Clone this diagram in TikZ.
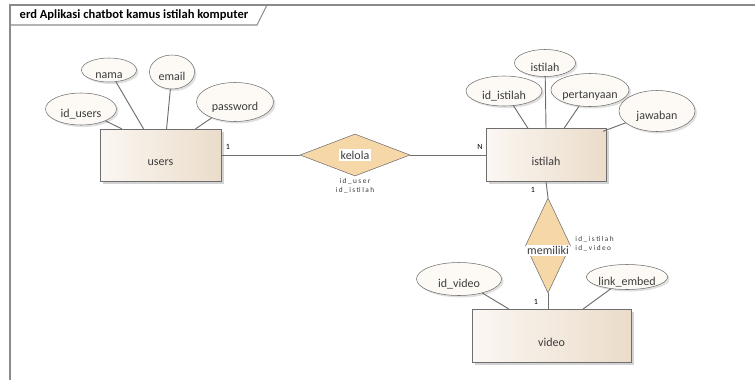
\documentclass[tikz,border=0pt]{standalone}
\usepackage{fontspec}
\setmainfont{Carlito}
\newfontfamily\keyfont[LetterSpace=20]{Carlito}
\usepackage{xcolor}
\definecolor{myline}{RGB}{110,110,110}
\definecolor{myattr}{RGB}{253,250,246}
\definecolor{mytan}{RGB}{246,215,168}
\definecolor{mylight}{RGB}{251,247,243}
\definecolor{mybeige}{RGB}{235,220,202}
\definecolor{mytext}{RGB}{60,60,60}
\usepackage{tikz}
\usetikzlibrary{shapes.geometric,shadows,calc}
\newcommand{\pxu}{0.75pt}

\begin{document}
\begin{tikzpicture}[x=0.75pt,y=-0.75pt,line cap=round]
	\tikzstyle{entity}=[draw=myline,rectangle,left color=mylight,right color=mybeige,inner sep=0pt,text height=16pt,text depth=0pt,font=\fontsize{9}{11}\selectfont,text=mytext,drop shadow={shadow xshift=2pt,shadow yshift=-2pt,opacity=.35}];
	\tikzstyle{attr}=[draw=myline,ellipse,fill=myattr,inner sep=0pt,text height=12pt,text depth=0pt,font=\fontsize{9}{11}\selectfont,text=mytext,drop shadow={shadow xshift=1.5pt,shadow yshift=-1.5pt,opacity=.25}];
	\tikzstyle{rel}=[draw=myline,diamond,fill=mytan,inner sep=0pt];
	\tikzstyle{relname}=[fill=white,inner sep=1pt,font=\fontsize{9}{11}\selectfont,text=mytext];
	\tikzstyle{keys}=[font=\keyfont\fontsize{5.5}{6.8}\selectfont,text=mytext,inner sep=0pt];
	\tikzstyle{card}=[font=\fontsize{6}{7}\selectfont,text=black,inner sep=0pt];
	\tikzstyle{conn}=[draw=myline,line width=.7pt];
	\tikzstyle{frame}=[draw=myline!80,line width=.8pt];
	\useasboundingbox (0,0) rectangle (755,379);
	% frame and title
	\draw[frame] (10,385) -- (10,5) -- (760,5);
	\draw[frame] (10,25) -- (257,25) -- (267,5);
	\node[anchor=west,font=\bfseries\fontsize{9.4}{11}\selectfont] (title) at (15,15) {erd Aplikasi chatbot kamus istilah komputer};
	% entities
	\node[entity,minimum width=121*\pxu,minimum height=52*\pxu] (users) at (160.5,155) {users};
	\node[entity,minimum width=120*\pxu,minimum height=53*\pxu] (istilah) at (546,155) {istilah};
	\node[entity,minimum width=159*\pxu,minimum height=53*\pxu] (video) at (551.5,335.5) {video};
	% relations
	\node[rel,minimum width=110*\pxu,minimum height=42*\pxu,label={[relname]center:kelola}] (kelola) at (355,155) {};
	\node[rel,minimum width=45*\pxu,minimum height=95*\pxu,label={[relname,yshift=-4pt]center:memiliki}] (memiliki) at (548,245.5) {};
	% attributes
	\node[attr,minimum width=71*\pxu,minimum height=32*\pxu] (idusers) at (81,109) {id\_users};
	\node[attr,minimum width=55*\pxu,minimum height=24*\pxu] (nama) at (109,70) {nama};
	\node[attr,minimum width=45*\pxu,minimum height=34*\pxu] (email) at (172,72) {email};
	\node[attr,minimum width=77*\pxu,minimum height=39*\pxu] (password) at (235,102) {password};
	\node[attr,minimum width=61*\pxu,minimum height=27*\pxu] (istilahname) at (545,63) {istilah};
	\node[attr,minimum width=76*\pxu,minimum height=30*\pxu] (idistilah) at (504,91) {id\_istilah};
	\node[attr,minimum width=74*\pxu,minimum height=33*\pxu] (pertanyaan) at (590,90) {pertanyaan};
	\node[attr,minimum width=76*\pxu,minimum height=41*\pxu] (jawaban) at (657,111) {jawaban};
	\node[attr,minimum width=85*\pxu,minimum height=33*\pxu] (idvideo) at (459,279) {id\_video};
	\node[attr,minimum width=79*\pxu,minimum height=25*\pxu] (linkembed) at (627,277) {link\_embed};
	% attribute lines
	\draw[conn] (idusers) -- ($(users.north west)!.18!(users.north east)$);
	\draw[conn] (nama) -- ($(users.north west)!.36!(users.north east)$);
	\draw[conn] (email) -- ($(users.north west)!.55!(users.north east)$);
	\draw[conn] (password) -- ($(users.north west)!.79!(users.north east)$);
	\draw[conn] (idistilah) -- ($(istilah.north west)!.35!(istilah.north east)$);
	\draw[conn] (istilahname) -- (istilah.north);
	\draw[conn] (pertanyaan) -- ($(istilah.north west)!.65!(istilah.north east)$);
	\draw[conn] (jawaban) -- ($(istilah.north east)+(-3,3)$);
	\draw[conn] (idvideo) -- ($(video.north west)!.23!(video.north east)$);
	\draw[conn] (linkembed) -- ($(video.north west)!.70!(video.north east)$);
	% relation lines
	\draw[conn] (users.east) -- (kelola.west);
	\draw[conn] (kelola.east) -- (istilah.west);
	\draw[conn] (istilah.south) -- (memiliki.north);
	\draw[conn] (memiliki.south) -- (video.north -| memiliki.south);
	% cardinalities and keys
	\node[card] (c1) at (228,147) {1};
	\node[card] (cN) at (480,147) {N};
	\node[card] (c2) at (533,190) {1};
	\node[card] (c3) at (536,302) {1};
	\node[keys,align=center] (kelolakeys) at (355,186) {id\_user\\id\_istilah};
	\node[keys,align=left,anchor=west] (memilikikeys) at (575,244) {id\_istilah\\id\_video};
\end{tikzpicture}
\end{document}
